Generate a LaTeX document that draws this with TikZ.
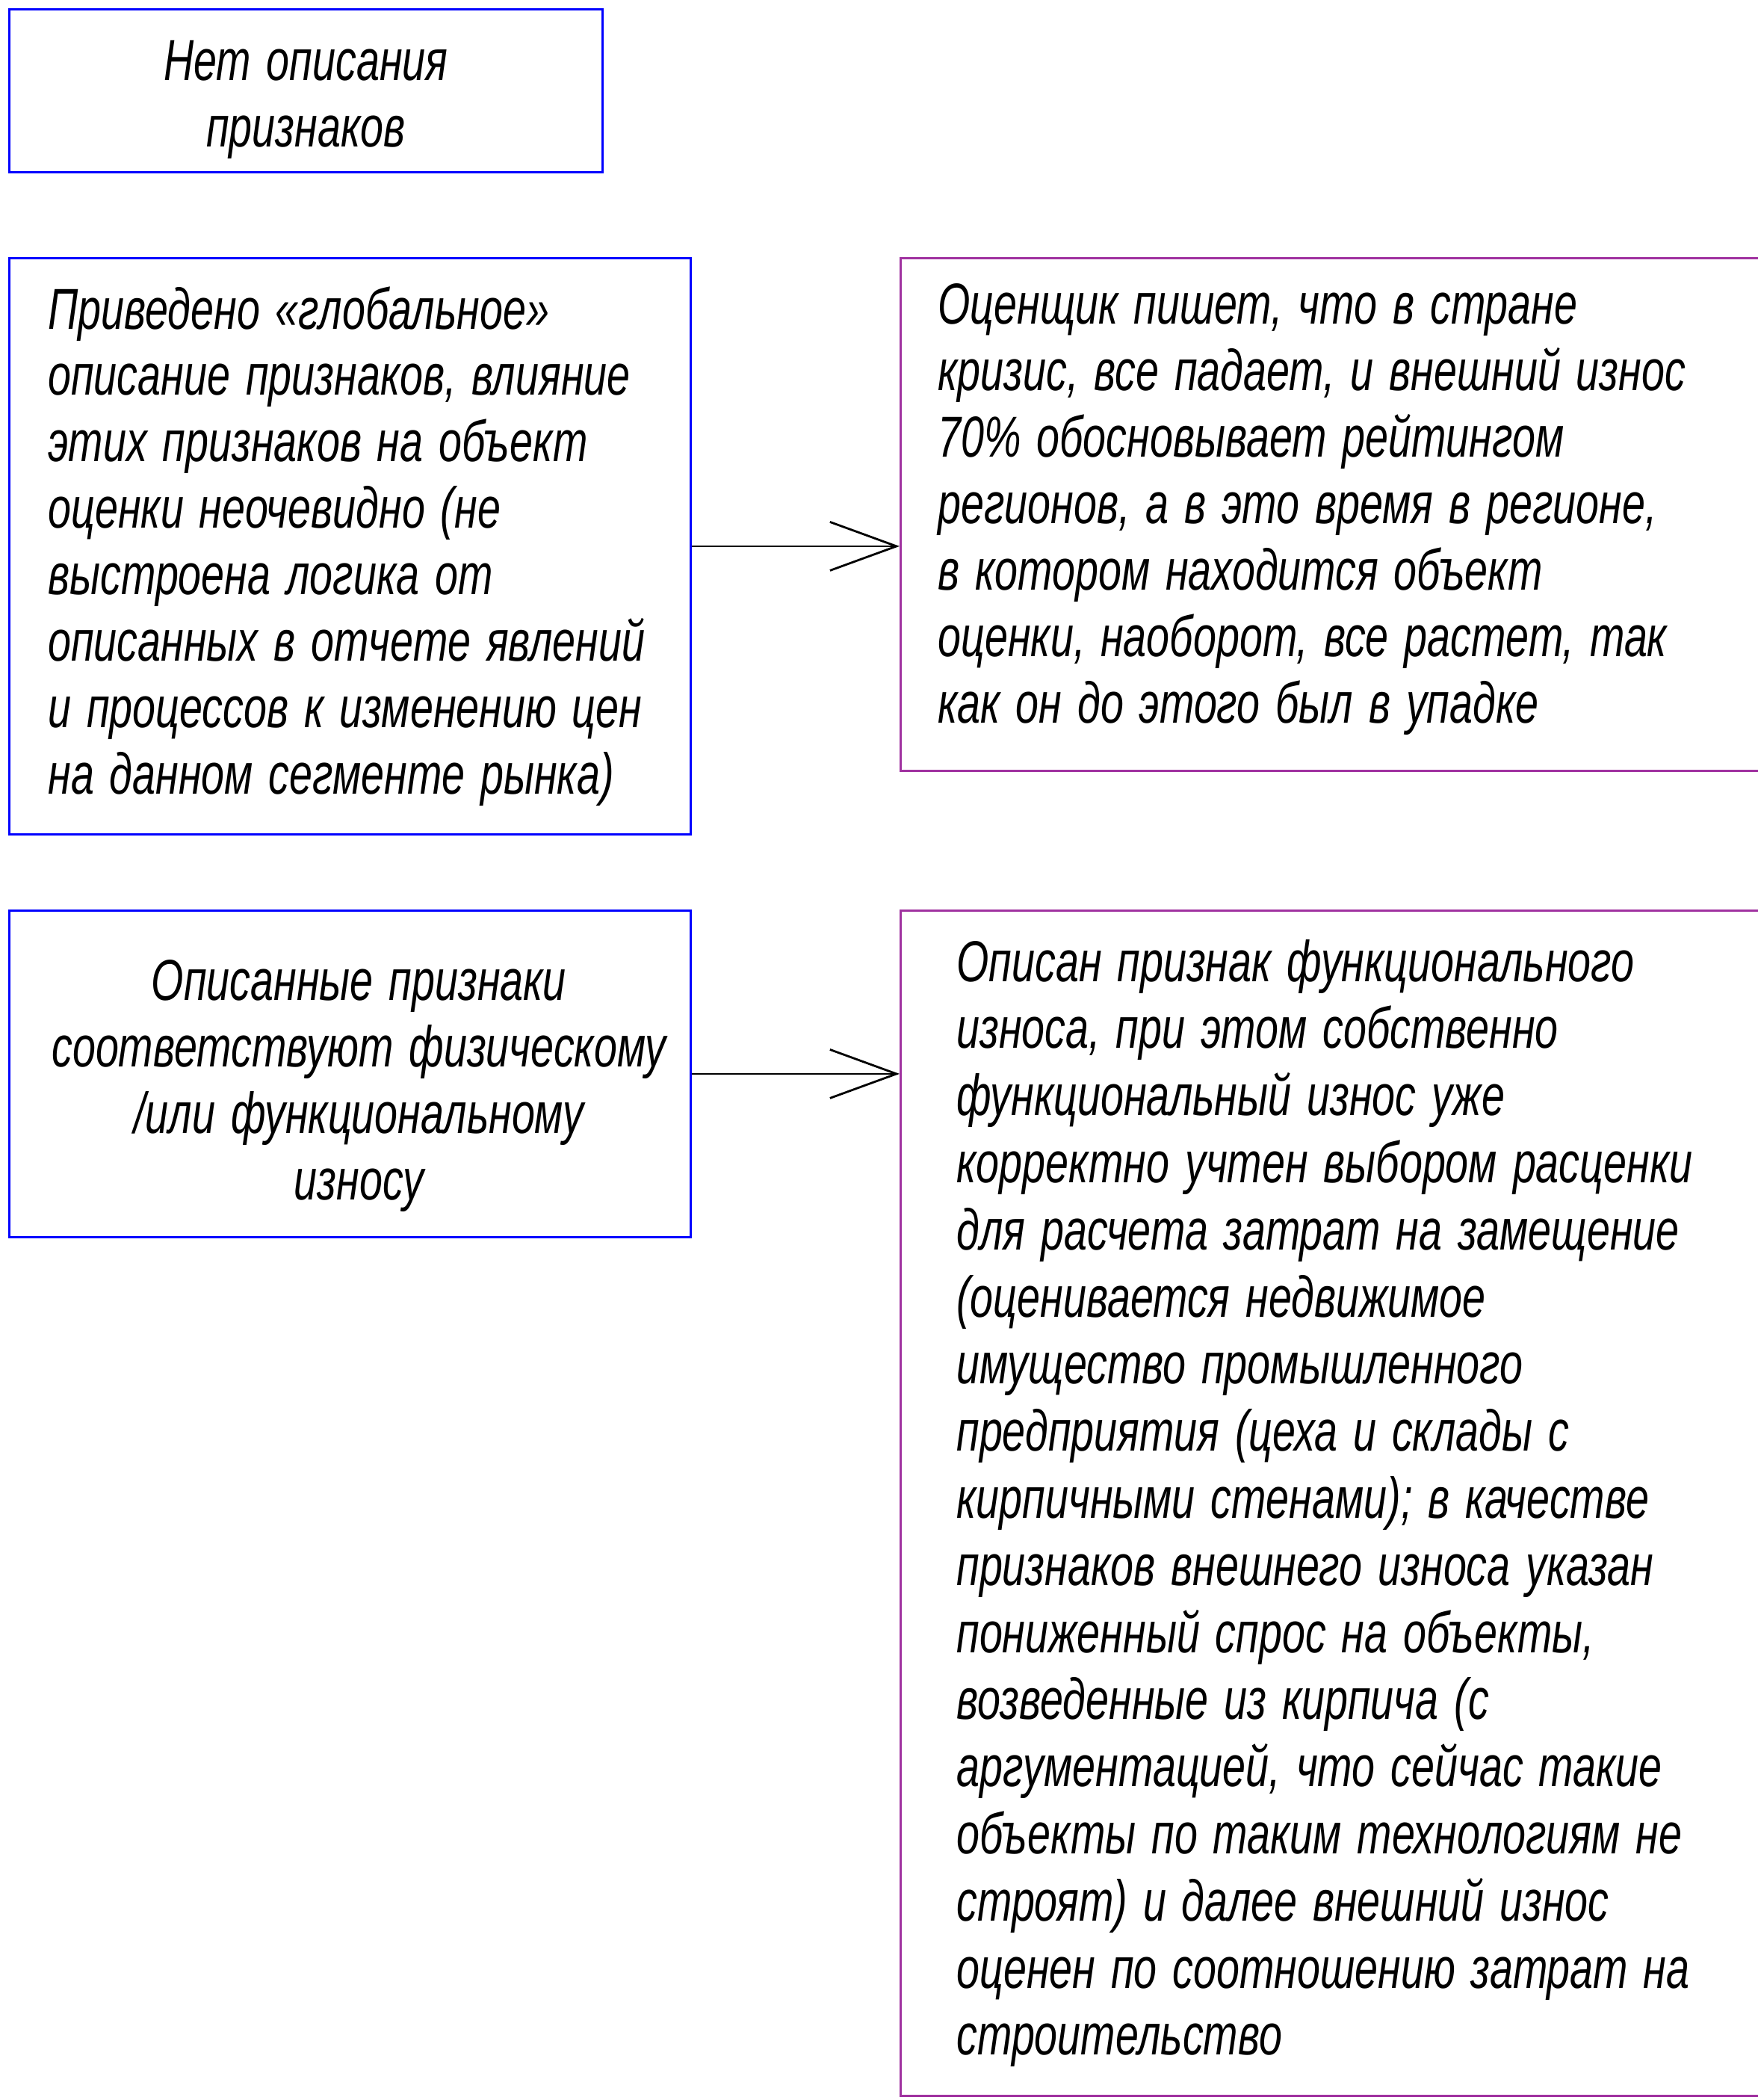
\documentclass[tikz,border=0pt]{standalone}
\usepackage{fontspec}
\newfontfamily\gost{Liberation Sans}[FakeStretch=0.72,WordSpace=1.35]
\usetikzlibrary{arrows.meta}

\definecolor{caixaazul}{RGB}{0,0,255}
\definecolor{caixaroxa}{RGB}{160,50,160}

\tikzset{
  azul/.style={draw=caixaazul, line width=0.8pt, inner sep=0pt, anchor=north west},
  roxa/.style={draw=caixaroxa, line width=0.8pt, inner sep=0pt, anchor=north west},
  texto/.style={font={\gost\itshape\fontsize{22}{25.3}\selectfont}, inner sep=0pt},
}

\begin{document}
\begin{tikzpicture}[>={Straight Barb[length=8.9mm,width=6.5mm]}, line width=0.8pt]

  % area visivel
  \path[use as bounding box] (0,0) rectangle (23.53,-28.10);
  \clip (0,0) rectangle (23.53,-28.10);

  % caixa do topo
  \node[azul, minimum width=7.94cm, minimum height=2.18cm] (Net) at (0.11,-0.11) {};
  \node[texto, align=center] (NetT) at ([yshift=-0.12cm]Net.center)
    {Нет описания\\признаков};

  % caixas da esquerda
  \node[azul, minimum width=9.12cm, minimum height=7.71cm] (Glob) at (0.11,-3.44) {};
  \node[texto, align=left, anchor=west] (GlobT) at ([xshift=0.52cm]Glob.west)
    {Приведено «глобальное»\\
     описание признаков, влияние\\
     этих признаков на объект\\
     оценки неочевидно (не\\
     выстроена логика от\\
     описанных в отчете явлений\\
     и процессов к изменению цен\\
     на данном сегменте рынка)};

  \node[azul, minimum width=9.12cm, minimum height=4.37cm] (Fiz) at (0.11,-12.17) {};
  \node[texto, align=center] (FizT) at ([xshift=0.12cm,yshift=-0.16cm]Fiz.center)
    {Описанные признаки\\соответствуют физическому\\/или функциональному\\износу};

  % caixas da direita (cortadas na borda)
  \node[roxa, minimum width=12cm, minimum height=6.86cm] (Kriz) at (12.04,-3.44) {};
  \node[texto, align=left, anchor=west] (KrizT) at ([xshift=0.50cm,yshift=0.07cm]Kriz.west)
    {Оценщик пишет, что в стране\\
     кризис, все падает, и внешний износ\\
     70\% обосновывает рейтингом\\
     регионов, а в это время в регионе,\\
     в котором находится объект\\
     оценки, наоборот, все растет, так\\
     как он до этого был в упадке};

  \node[roxa, minimum width=12cm, minimum height=15.86cm] (Func) at (12.04,-12.17) {};
  \node[texto, font={\gost\itshape\fontsize{22}{25.55}\selectfont}, align=left, anchor=west]
    (FuncT) at ([xshift=0.75cm]Func.west)
    {Описан признак функционального\\
     износа, при этом собственно\\
     функциональный износ уже\\
     корректно учтен выбором расценки\\
     для расчета затрат на замещение\\
     (оценивается недвижимое\\
     имущество промышленного\\
     предприятия (цеха и склады с\\
     кирпичными стенами); в качестве\\
     признаков внешнего износа указан\\
     пониженный спрос на объекты,\\
     возведенные из кирпича (с\\
     аргументацией, что сейчас такие\\
     объекты по таким технологиям не\\
     строят) и далее внешний износ\\
     оценен по соотношению затрат на\\
     строительство};

  % setas
  \draw[->] (Glob.east) -- (Glob.east -| Kriz.west);
  \draw[->] (Fiz.east) -- (Fiz.east -| Func.west);

\end{tikzpicture}
\end{document}
